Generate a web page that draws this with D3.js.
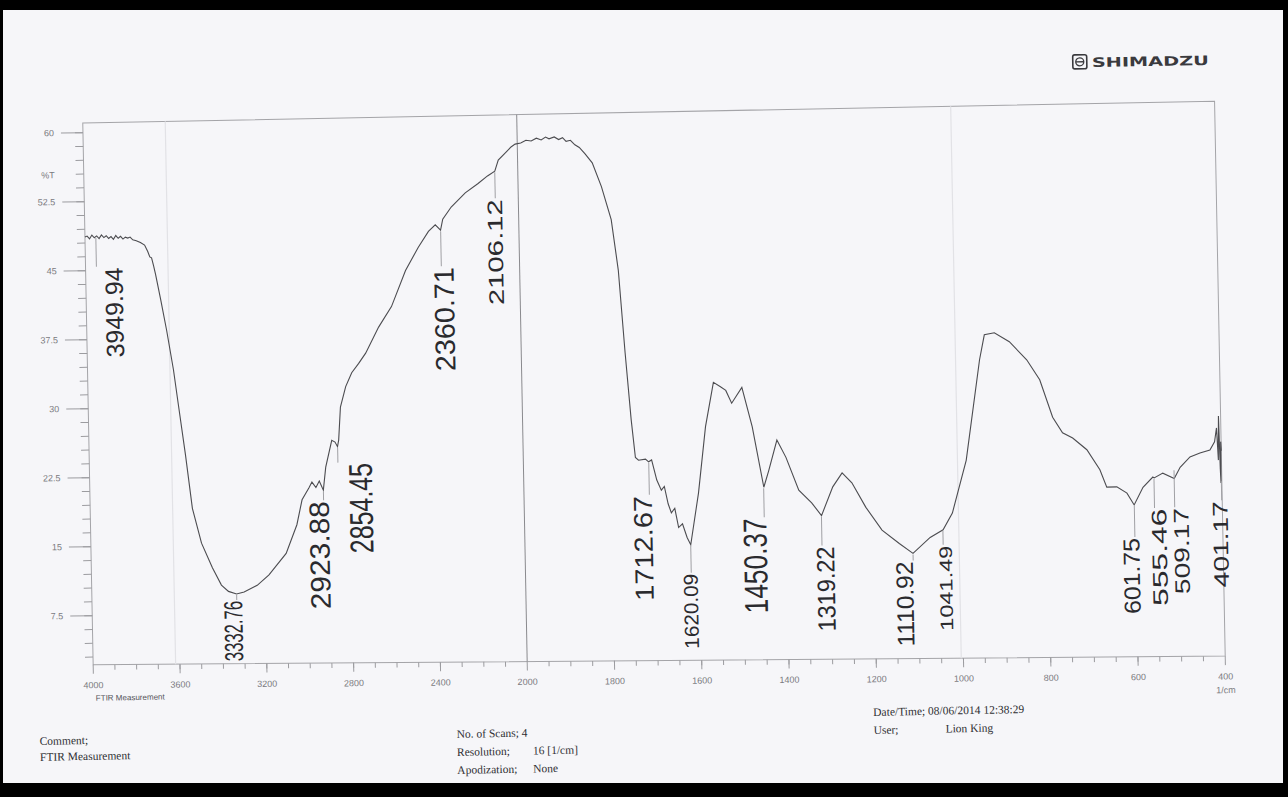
<!DOCTYPE html>
<html>
<head>
<meta charset="utf-8">
<script src="https://cdn.jsdelivr.net/npm/d3@7"></script>
<style>
  html, body { margin: 0; padding: 0; background: #000; }
  svg { display: block; }
</style>
</head>
<body>
<svg id="chart" width="1288" height="797"></svg>
<script>
// Spectrum (wavenumber in 1/cm, transmittance in %T)
const wavenumber = [4000, 3990, 3979, 3968, 3957, 3946, 3935, 3924, 3913, 3902, 3891, 3880, 3869, 3858, 3847, 3836, 3825, 3814, 3803, 3792,
  3780, 3764, 3745, 3726, 3712, 3703, 3695, 3686, 3678, 3657, 3632, 3604, 3584, 3556, 3529, 3490, 3442, 3402, 3370, 3333,
  3298, 3237, 3182, 3101, 3049, 3023, 2990, 2976, 2958, 2942, 2924, 2911, 2881, 2866, 2855, 2849, 2838, 2812, 2783, 2750,
  2717, 2655, 2594, 2526, 2465, 2417, 2385, 2361, 2350, 2310, 2244, 2184, 2140, 2106, 2089, 2050, 2029, 2010, 1992, 1980,
  1968, 1956, 1945, 1935, 1927, 1915, 1905, 1896, 1888, 1878, 1868, 1858, 1845, 1829, 1809, 1788, 1774, 1762, 1751, 1743,
  1736, 1720, 1713, 1706, 1695, 1685, 1678, 1670, 1663, 1655, 1647, 1638, 1628, 1620, 1600, 1581, 1561, 1545, 1533, 1520,
  1496, 1474, 1450, 1438, 1418, 1398, 1370, 1341, 1319, 1292, 1270, 1248, 1217, 1181, 1142, 1111, 1071, 1041, 1019, 985,
  950, 938, 915, 881, 842, 813, 785, 763, 740, 708, 679, 664, 641, 618, 602, 581, 558, 555, 535, 509,
  495, 472, 449, 426, 415, 410, 407, 405, 403, 402, 401, 400];
const transmittance = [48.6, 48.7, 48.4, 48.8, 48.5, 48.7, 48.4, 48.8, 48.5, 48.7, 48.4, 48.6, 48.3, 48.7, 48.4, 48.6, 48.3, 48.5, 48.4, 48.5,
  48.2, 48.1, 47.9, 47.6, 46.9, 46.3, 46.2, 45.3, 44.4, 41.7, 38.3, 34.0, 30.1, 24.7, 18.9, 15.1, 12.4, 10.5, 9.8, 9.5,
  9.7, 10.4, 11.5, 13.8, 16.9, 19.6, 20.9, 21.5, 20.9, 21.6, 20.6, 23.1, 26.0, 25.8, 25.3, 26.0, 29.6, 31.8, 33.3, 34.3,
  35.4, 38.2, 40.4, 44.3, 46.8, 48.5, 49.2, 48.6, 49.8, 51.1, 52.6, 53.6, 54.4, 54.9, 56.1, 57.0, 57.5, 57.8, 57.9, 58.2,
  58.1, 58.4, 58.2, 58.5, 58.3, 58.5, 58.2, 58.4, 58.0, 58.1, 57.6, 57.3, 56.6, 55.6, 53.0, 49.4, 43.9, 34.9, 27.6, 23.5,
  23.2, 23.3, 23.0, 23.2, 21.0, 19.9, 20.3, 18.4, 17.4, 17.9, 15.8, 16.2, 14.7, 13.9, 19.5, 26.7, 31.5, 31.0, 30.6, 29.2,
  30.9, 26.6, 20.0, 21.8, 25.1, 23.2, 19.6, 18.2, 16.8, 19.9, 21.4, 20.3, 17.6, 15.1, 13.6, 12.5, 14.2, 15.0, 16.8, 22.5,
  33.4, 36.1, 36.3, 35.3, 33.3, 31.1, 27.0, 25.3, 24.7, 23.4, 21.2, 19.3, 19.3, 18.6, 17.3, 19.2, 20.3, 20.2, 20.7, 20.1,
  21.3, 22.4, 22.8, 23.1, 24.0, 25.5, 22.0, 26.8, 21.0, 19.5, 24.0, 23.0];

// Labelled peaks
const peakWn = [3949.94, 3332.76, 2923.88, 2854.45, 2360.71, 2106.12, 1712.67, 1620.09,
  1450.37, 1319.22, 1110.92, 1041.49, 601.75, 555.46, 509.17, 401.17];
const peakT = [48.6, 9.5, 20.6, 25.3, 48.6, 54.9, 23.0, 13.9, 20.0, 16.8, 12.5, 15.0, 17.3, 20.2, 21.1, 19.8];

// Axis ticks
const xTicks = [4000, 3600, 3200, 2800, 2400, 2000, 1800, 1600, 1400, 1200, 1000, 800, 600, 400];
const yTicks = [7.5, 15, 22.5, 30, 37.5, 45, 52.5, 60];

// Label placement on the printout (offset from tick, tick length, font size, printed length)
const labelLayout = [
  { dx: 17, gap: 30, size: 25, len: 90 },
  { dx: -4, gap: 6, size: 26, len: 60 },
  { dx: -5, gap: 10, size: 28, len: 108 },
  { dx: 22, gap: 16, size: 33, len: 90 },
  { dx: 2, gap: 36, size: 28, len: 104 },
  { dx: -1, gap: 27, size: 21, len: 106 },
  { dx: -7, gap: 33, size: 26, len: 105 },
  { dx: -1, gap: 28, size: 20, len: 75 },
  { dx: -10, gap: 30, size: 33, len: 95 },
  { dx: 3, gap: 30, size: 25, len: 85 },
  { dx: -9, gap: 7, size: 24, len: 85 },
  { dx: 2, gap: 15, size: 18, len: 85 },
  { dx: -4, gap: 32, size: 23, len: 76 },
  { dx: 4, gap: 30, size: 21, len: 97 },
  { dx: 6, gap: 38, size: 21, len: 86 },
  { dx: -2, gap: 20, size: 21, len: 86 }
];

const width = 1288;
const height = 797;
const plot = { left: 88, right: 1220, top: 112, bottom: 654 };
// the bottom edge of the scanned sheet sags a little towards the right
const sag = 13;
const bottomAt = px => plot.bottom + sag * (px - plot.left) / (plot.right - plot.left);

const svg = d3.select("#chart");

// Paper
svg.append("rect").attr("x", 3).attr("y", 10).attr("width", width - 8).attr("height", 773)
  .attr("fill", "#f6f6f9");

// The scan is slightly tilted, so draw everything in a rotated group
const page = svg.append("g").attr("transform", "rotate(-1.1, 656, 390)");

// Scales: the x axis is expanded 2x below 2000 1/cm
const x = d3.scaleLinear().domain([4000, 2000, 400]).range([plot.left, 522, plot.right]);
const y = d3.scaleLinear().domain([2.1, 61]).range([plot.bottom, plot.top]);

// Frame
page.append("path")
  .attr("d", `M${plot.left},${plot.top}H${plot.right}V${bottomAt(plot.right)}L${plot.left},${plot.bottom}Z`)
  .attr("fill", "none").attr("stroke", "#a4a4a8").attr("stroke-width", 1);

// Faint fold lines on the paper
page.selectAll("line.fold").data([3620, 1005]).enter().append("line")
  .attr("class", "fold")
  .attr("x1", d => x(d)).attr("x2", d => x(d))
  .attr("y1", plot.top).attr("y2", d => bottomAt(x(d)))
  .attr("stroke", "#e2e2e6").attr("stroke-width", 1.2);

// Scale change marker at 2000
page.append("line")
  .attr("x1", x(2000)).attr("x2", x(2000))
  .attr("y1", plot.top).attr("y2", bottomAt(x(2000)))
  .attr("stroke", "#8a8a8e").attr("stroke-width", 1);

// Y axis
const yMinor = d3.range(3, 61, 1.5);
page.append("g").attr("transform", `translate(${plot.left},0)`)
  .call(d3.axisLeft(y).tickValues(yMinor).tickSize(8).tickSizeOuter(0).tickFormat(""))
  .call(g => g.select(".domain").remove())
  .call(g => g.selectAll("line").attr("stroke", "#9c9ca0"));
page.append("g").attr("transform", `translate(${plot.left},0)`)
  .call(d3.axisLeft(y).tickValues(yTicks).tickSize(22).tickSizeOuter(0).tickPadding(7).tickFormat(d => d))
  .call(g => g.select(".domain").remove())
  .call(g => g.selectAll("line").attr("stroke", "#9c9ca0"))
  .call(g => g.selectAll("text").attr("fill", "#7a7a80").style("font-family", "Liberation Sans, Arial, sans-serif").style("font-size", "9px"));
page.append("text")
  .attr("x", plot.left - 29).attr("y", y(55.4)).attr("dy", "0.35em")
  .attr("text-anchor", "end")
  .attr("fill", "#7a7a80").style("font-family", "Liberation Sans, Arial, sans-serif").style("font-size", "9px")
  .text("%T");

// X axis (ticks follow the sagging bottom edge)
const xMinor = d3.range(3900, 2000, -100).concat(d3.range(1950, 400, -50));
page.append("g")
  .call(d3.axisBottom(x).tickValues(xMinor).tickSize(5).tickSizeOuter(0).tickFormat(""))
  .call(g => g.select(".domain").remove())
  .call(g => g.selectAll(".tick").attr("transform", d => `translate(${x(d)},${bottomAt(x(d))})`))
  .call(g => g.selectAll("line").attr("stroke", "#9c9ca0"));
page.append("g")
  .call(d3.axisBottom(x).tickValues(xTicks).tickSize(9).tickSizeOuter(0).tickPadding(8).tickFormat(d => d))
  .call(g => g.select(".domain").remove())
  .call(g => g.selectAll(".tick").attr("transform", d => `translate(${x(d)},${bottomAt(x(d))})`))
  .call(g => g.selectAll("line").attr("stroke", "#9c9ca0"))
  .call(g => g.selectAll("text").attr("fill", "#7a7a80").style("font-family", "Liberation Sans, Arial, sans-serif").style("font-size", "9px"));
page.append("text")
  .attr("x", x(400)).attr("y", bottomAt(plot.right) + 37)
  .attr("text-anchor", "middle")
  .attr("fill", "#7a7a80").style("font-family", "Liberation Sans, Arial, sans-serif").style("font-size", "9px")
  .text("1/cm");
page.append("text")
  .attr("x", plot.left + 2).attr("y", plot.bottom + 36)
  .attr("fill", "#55555a").style("font-family", "Liberation Sans, Arial, sans-serif").style("font-size", "8px")
  .text("FTIR Measurement");

// Spectrum
const spectrum = wavenumber.map((w, i) => ({ wn: w, t: transmittance[i] }));
page.append("path")
  .datum(spectrum)
  .attr("fill", "none")
  .attr("stroke", "#4c4c50")
  .attr("stroke-width", 1.1)
  .attr("d", d3.line().x(d => x(d.wn)).y(d => y(d.t)));

// Peak ticks and labels
const peaks = peakWn.map((w, i) => ({ wn: w, t: peakT[i], lay: labelLayout[i] }));
const peak = page.append("g").selectAll("g").data(peaks).enter().append("g");
peak.append("line")
  .attr("x1", d => x(d.wn)).attr("x2", d => x(d.wn))
  .attr("y1", d => y(d.t) + 1).attr("y2", d => y(d.t) + d.lay.gap)
  .attr("stroke", "#a0a0a4").attr("stroke-width", 1);
peak.append("text")
  .attr("transform", d => `translate(${x(d.wn) + d.lay.dx},${y(d.t) + d.lay.gap + 1}) rotate(-90)`)
  .attr("text-anchor", "end")
  .attr("dy", "0.36em")
  .attr("textLength", d => d.lay.len)
  .attr("lengthAdjust", "spacingAndGlyphs")
  .attr("fill", "#2a2a2e")
  .style("font-family", "Liberation Sans, Arial, sans-serif")
  .style("font-size", d => d.lay.size + "px")
  .text(d => d.wn.toFixed(2));

// Header logo
const logo = page.append("g").attr("transform", "translate(1079,63)");
logo.append("rect").attr("width", 14).attr("height", 14).attr("rx", 2)
  .attr("fill", "none").attr("stroke", "#3a3a3e").attr("stroke-width", 1.6);
logo.append("circle").attr("cx", 7).attr("cy", 7).attr("r", 4)
  .attr("fill", "none").attr("stroke", "#3a3a3e").attr("stroke-width", 1.3);
logo.append("line").attr("x1", 3).attr("x2", 11).attr("y1", 7).attr("y2", 7)
  .attr("stroke", "#3a3a3e").attr("stroke-width", 1.3);
logo.append("text")
  .attr("x", 19).attr("y", 12.5)
  .attr("textLength", 117).attr("lengthAdjust", "spacingAndGlyphs")
  .attr("fill", "#3a3a3e")
  .style("font-family", "DejaVu Sans, sans-serif").style("font-weight", "bold").style("font-size", "13px")
  .text("SHIMADZU");

// Footer
const footFont = "Liberation Serif, Times New Roman, serif";
const foot = [
  { x: 33, y: 733, t: "Comment;" },
  { x: 33, y: 749, t: "FTIR Measurement" },
  { x: 450, y: 734, t: "No. of Scans; 4" },
  { x: 450, y: 752, t: "Resolution;" },
  { x: 526, y: 752, t: "16 [1/cm]" },
  { x: 450, y: 770, t: "Apodization;" },
  { x: 526, y: 770, t: "None" },
  { x: 867, y: 720, t: "Date/Time; 08/06/2014 12:38:29" },
  { x: 867, y: 738, t: "User;" },
  { x: 939, y: 738, t: "Lion King" }
];
page.append("g").selectAll("text").data(foot).enter().append("text")
  .attr("x", d => d.x).attr("y", d => d.y)
  .attr("fill", "#303034")
  .style("font-family", footFont).style("font-size", "11.5px")
  .text(d => d.t);
</script>
</body>
</html>
